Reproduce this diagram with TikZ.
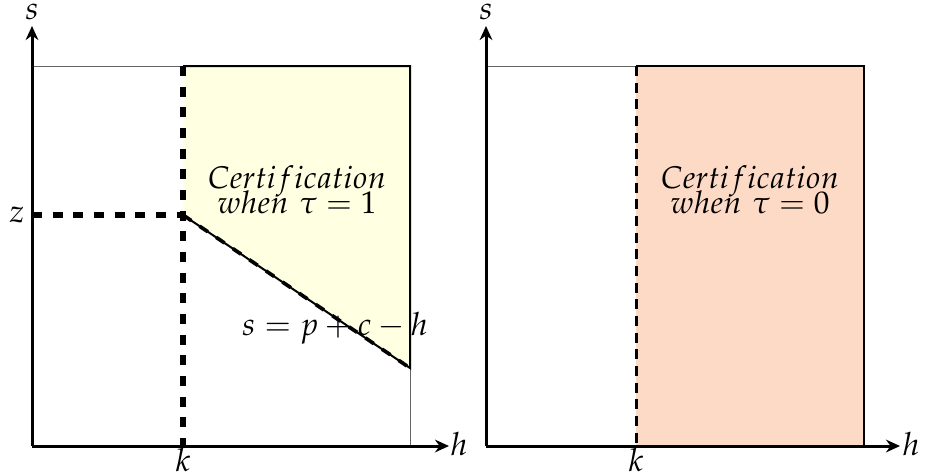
\documentclass[tikz,border=0pt]{standalone}
\usepackage{mathpazo}
\usetikzlibrary{arrows.meta}
\definecolor{certyellow}{RGB}{255,255,225}
\definecolor{certpeach}{RGB}{253,218,198}
\tikzset{
  axis/.style={line width=0.9pt,-{Stealth[length=4.2pt,width=3.8pt]}},
  thinline/.style={line width=0.3pt,black!60},
  bigdash/.style={line width=1.6pt,dash pattern=on 3pt off 3.2pt},
  middash/.style={line width=0.9pt,dash pattern=on 3pt off 2pt},
  edge/.style={line width=0.6pt},
  lab/.style={inner sep=0pt,font=\fontsize{9.6pt}{10pt}\selectfont},
  cert/.style={inner sep=0pt,align=center,font=\fontsize{9.4pt}{10pt}\selectfont}
}
\begin{document}
\begin{tikzpicture}[x=0.3pt,y=-0.3pt]
\useasboundingbox (0,0) rectangle (926,474);
% ---------- left panel ----------
\coordinate (Lo) at (32,446);
\coordinate (Ls) at (32,26);
\coordinate (Lh) at (449,446);
\coordinate (Ltl) at (32,66);
\coordinate (Lk) at (183,66);
\coordinate (Lr) at (410,66);
\coordinate (Lrb) at (410,368);
\coordinate (Lz) at (183,215);
\coordinate (Lkb) at (183,446);
\coordinate (Lzl) at (32,215);
\coordinate (Lrh) at (410,446);
\fill[certyellow] (Lk) -- (Lr) -- (Lrb) -- (Lz) -- cycle;
\draw[thinline] (Ltl) -- (Lk);
\draw[thinline] (Lrb) -- (Lrh);
\draw[edge] (Lk) -- (Lr) -- (Lrb) -- (Lz);
\draw[bigdash] (Lk) -- (Lkb);
\draw[bigdash] (Lzl) -- (Lz);
\draw[line width=1.1pt,dash pattern=on 3pt off 3pt,shift={(0,2)}] (Lz) -- (Lrb);
\draw[axis] (Lo) -- (Ls);
\draw[axis] (Lo) -- (Lh);
\node[lab] (ls) at (32,12) {$s$};
\node[lab] (lh) at (459,444) {$h$};
\node[lab] (lk) at (183,460) {$k$};
\node[lab] (lz) at (17,215) {$z$};
\node[cert] (lc) at (297,190) {$Certification$\\[-2.5pt]$when\ \tau=1$};
\node[lab] (leq) at (335,328) {$s=p+c-h$};
% ---------- right panel ----------
\coordinate (Ro) at (486,446);
\coordinate (Rs) at (486,26);
\coordinate (Rh) at (900,446);
\coordinate (Rtl) at (486,66);
\coordinate (Rk) at (636,66);
\coordinate (Rkb) at (636,446);
\coordinate (Rr) at (864,66);
\coordinate (Rrb) at (864,446);
\fill[certpeach] (Rk) rectangle (Rrb);
\draw[thinline] (Rtl) -- (Rk);
\draw[edge] (Rk) -- (Rr) -- (Rrb);
\draw[middash] (Rk) -- (Rkb);
\draw[axis] (Ro) -- (Rs);
\draw[axis] (Ro) -- (Rh);
\node[lab] (rs) at (486,12) {$s$};
\node[lab] (rh) at (911,444) {$h$};
\node[lab] (rk) at (636,460) {$k$};
\node[cert] (rc) at (750,190) {$Certification$\\[-2.5pt]$when\ \tau=0$};
\end{tikzpicture}
\end{document}
